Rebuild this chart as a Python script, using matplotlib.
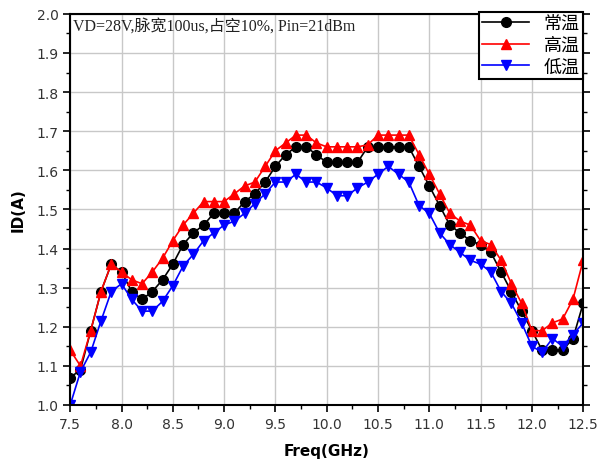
import matplotlib
matplotlib.use("Agg")
import matplotlib.pyplot as plt
from matplotlib.ticker import MultipleLocator

# frequency points (GHz), one every 0.1 from 7.5 to 12.5
freq = [7.5, 7.6, 7.7, 7.8, 7.9,
        8.0, 8.1, 8.2, 8.3, 8.4, 8.5, 8.6, 8.7, 8.8, 8.9,
        9.0, 9.1, 9.2, 9.3, 9.4, 9.5, 9.6, 9.7, 9.8, 9.9,
        10.0, 10.1, 10.2, 10.3, 10.4, 10.5, 10.6, 10.7, 10.8, 10.9,
        11.0, 11.1, 11.2, 11.3, 11.4, 11.5, 11.6, 11.7, 11.8, 11.9,
        12.0, 12.1, 12.2, 12.3, 12.4, 12.5]

# 常温
id_room = [1.07, 1.09, 1.19, 1.29, 1.36,
           1.34, 1.29, 1.27, 1.29, 1.32, 1.36, 1.41, 1.44, 1.46, 1.49,
           1.49, 1.49, 1.52, 1.54, 1.57, 1.61, 1.64, 1.66, 1.66, 1.64,
           1.62, 1.62, 1.62, 1.62, 1.66, 1.66, 1.66, 1.66, 1.66, 1.61,
           1.56, 1.51, 1.46, 1.44, 1.42, 1.41, 1.39, 1.34, 1.29, 1.24,
           1.19, 1.14, 1.14, 1.14, 1.17, 1.26]

# 高温
id_high = [1.14, 1.10, 1.19, 1.29, 1.36,
           1.34, 1.32, 1.31, 1.34, 1.375, 1.42, 1.46, 1.49, 1.52, 1.52,
           1.52, 1.54, 1.56, 1.57, 1.61, 1.65, 1.67, 1.69, 1.69, 1.67,
           1.66, 1.66, 1.66, 1.66, 1.665, 1.69, 1.69, 1.69, 1.69, 1.64,
           1.59, 1.54, 1.49, 1.47, 1.46, 1.42, 1.41, 1.37, 1.31, 1.26,
           1.19, 1.19, 1.21, 1.22, 1.27, 1.37]

# 低温
id_low = [1.00, 1.085, 1.135, 1.215, 1.29,
          1.31, 1.27, 1.24, 1.24, 1.265, 1.305, 1.355, 1.385, 1.42, 1.44,
          1.46, 1.47, 1.49, 1.515, 1.54, 1.57, 1.57, 1.59, 1.57, 1.57,
          1.555, 1.535, 1.535, 1.555, 1.57, 1.59, 1.61, 1.59, 1.57, 1.51,
          1.49, 1.44, 1.41, 1.39, 1.37, 1.36, 1.34, 1.29, 1.26, 1.21,
          1.15, 1.135, 1.17, 1.15, 1.18, 1.21]

labels = ["常温", "高温", "低温"]
note = "VD=28V,脉宽100us,占空10%, Pin=21dBm"

cjk = ["Liberation Serif", "Noto Sans CJK SC"]

fig = plt.figure(figsize=(6, 4.64), dpi=100)
ax = fig.add_axes([0.117, 0.125, 0.855, 0.843])

ax.plot(freq, id_room, color="black", marker="o", markersize=7, lw=1.2, label=labels[0])
ax.plot(freq, id_high, color="red", marker="^", markersize=7, lw=1.2, label=labels[1])
ax.plot(freq, id_low, color="blue", marker="v", markersize=7, lw=1.2, label=labels[2])

ax.set_xlim(7.5, 12.5)
ax.set_ylim(1.0, 2.0)
ax.xaxis.set_major_locator(MultipleLocator(0.5))
ax.xaxis.set_minor_locator(MultipleLocator(0.25))
ax.yaxis.set_major_locator(MultipleLocator(0.1))
ax.yaxis.set_minor_locator(MultipleLocator(0.05))
ax.grid(True, which="major", color="#c8c8c8", lw=1.0)
ax.set_axisbelow(True)

ax.tick_params(which="both", direction="out", labelsize=10, colors="black")
ax.tick_params(which="major", length=5, width=1.2)
ax.tick_params(which="minor", length=3, width=1)
ax.tick_params(axis="y", which="both", right=True, labelright=False)
for lab in ax.get_xticklabels() + ax.get_yticklabels():
    lab.set_color("#333333")
for sp in ax.spines.values():
    sp.set_linewidth(1.5)

ax.set_xlabel("Freq(GHz)", fontsize=11, fontweight="bold", labelpad=9)
ax.set_ylabel("ID(A)", fontsize=11, fontweight="bold", labelpad=8)

ax.text(0.005, 0.99, note, transform=ax.transAxes, va="top", ha="left",
        fontsize=11.5, family=cjk, color="#222222")

leg = ax.legend(loc="upper right", bbox_to_anchor=(1.0, 1.005), fancybox=False,
                edgecolor="black", framealpha=1, borderaxespad=0,
                prop={"family": cjk, "size": 13}, handlelength=2.6,
                labelspacing=0.25, borderpad=0.2, handletextpad=0.8)
leg.get_frame().set_linewidth(1.5)

fig.savefig("out.png", dpi=100)
